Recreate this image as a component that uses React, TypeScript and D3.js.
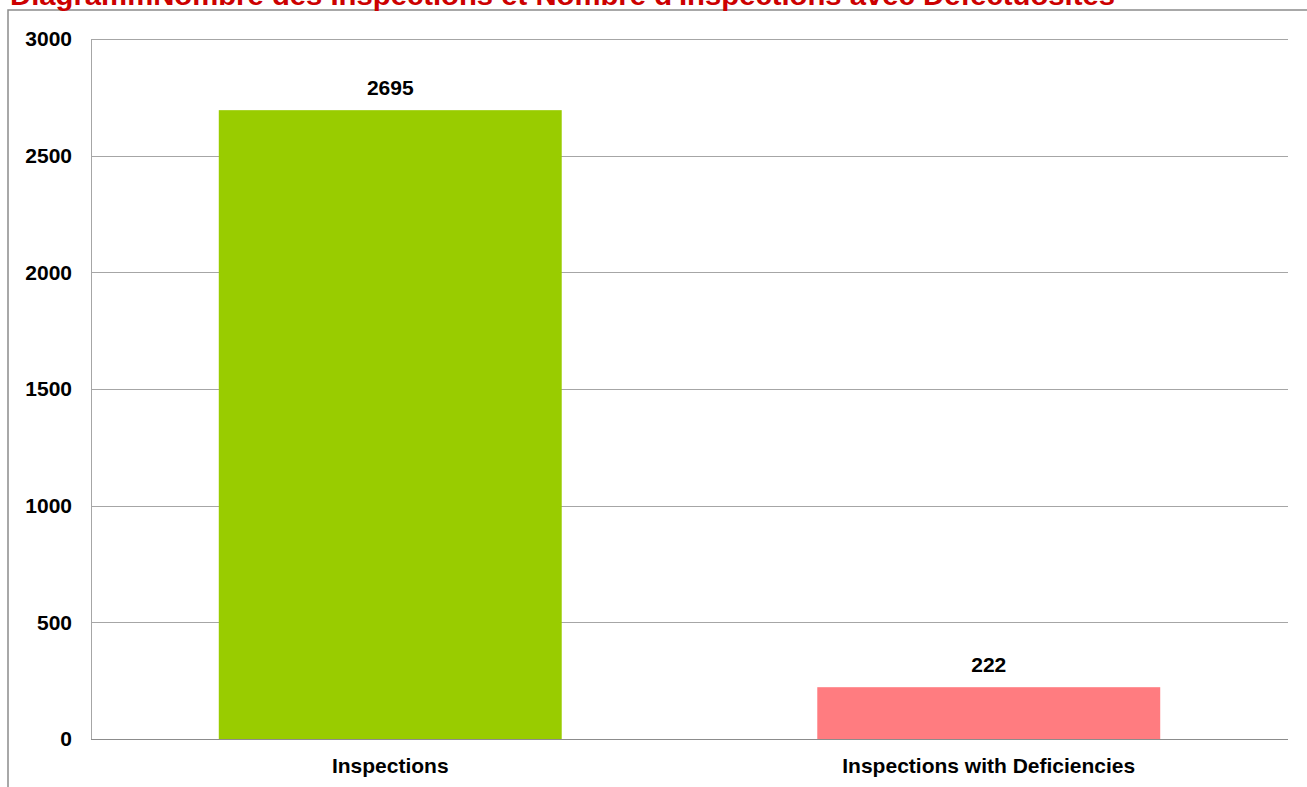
import React from "react";
import * as d3 from "d3";

const categories: string[] = ["Inspections", "Inspections with Deficiencies"];
const values: number[] = [2695, 222];
const barColors: string[] = ["#99CC00", "#FF7C80"];
const yTicks: number[] = [0, 500, 1000, 1500, 2000, 2500, 3000];
const title = "DiagrammNombre des Inspections et Nombre d'Inspections avec Defectuosites";

const W = 1307;
const H = 787;
const plot = { left: 91, right: 1288, top: 39, bottom: 739 };
const font = "'Liberation Sans', Arial, Helvetica, sans-serif";
const labelSize = 21;

export default function App() {
  const x = d3
    .scaleBand<string>()
    .domain(categories)
    .range([plot.left, plot.right])
    .paddingInner(0.427)
    .paddingOuter(0.2135);
  const y = d3.scaleLinear().domain([0, 3000]).range([plot.bottom, plot.top]);

  return (
    <svg
      width={W}
      height={H}
      style={{ position: "absolute", left: 0, top: 0, background: "#fff" }}
      fontFamily={font}
    >
      <rect x={0} y={0} width={W} height={H} fill="#fff" />
      {/* outer frame */}
      <rect x={8} y={10} width={W + 20} height={H + 20} fill="none" stroke="#8c8c8c" strokeWidth={1.5} />
      {/* title */}
      <text
        x={10}
        y={5}
        fill="#CC0000"
        fontWeight="bold"
        fontSize={28}
        textLength={1105}
        lengthAdjust="spacingAndGlyphs"
      >
        {title}
      </text>
      {/* gridlines */}
      {yTicks.map((t) => (
        <line
          key={"g" + t}
          x1={plot.left}
          x2={plot.right}
          y1={Math.round(y(t)) + 0.5}
          y2={Math.round(y(t)) + 0.5}
          stroke={t === 0 ? "#8c8c8c" : "#a6a6a6"}
          strokeWidth={1}
        />
      ))}
      {/* y axis line */}
      <line x1={plot.left + 0.5} x2={plot.left + 0.5} y1={plot.top} y2={plot.bottom} stroke="#a6a6a6" />
      {/* y tick labels */}
      {yTicks.map((t) => (
        <text
          key={"t" + t}
          x={72}
          y={y(t)}
          dy="0.35em"
          textAnchor="end"
          fontWeight="bold"
          fontSize={labelSize}
          fill="#000"
        >
          {t}
        </text>
      ))}
      {/* bars */}
      {categories.map((c, i) => (
        <rect
          key={"b" + c}
          x={x(c)!}
          y={y(values[i])}
          width={x.bandwidth()}
          height={y(0) - y(values[i])}
          fill={barColors[i]}
        />
      ))}
      {/* data labels */}
      {categories.map((c, i) => (
        <text
          key={"l" + c}
          x={x(c)! + x.bandwidth() / 2}
          y={y(values[i]) - 23}
          dy="0.35em"
          textAnchor="middle"
          fontWeight="bold"
          fontSize={labelSize}
          fill="#000"
        >
          {values[i]}
        </text>
      ))}
      {/* category labels */}
      {categories.map((c) => (
        <text
          key={"c" + c}
          x={x(c)! + x.bandwidth() / 2}
          y={766}
          dy="0.35em"
          textAnchor="middle"
          fontWeight="bold"
          fontSize={labelSize}
          fill="#000"
        >
          {c}
        </text>
      ))}
    </svg>
  );
}
